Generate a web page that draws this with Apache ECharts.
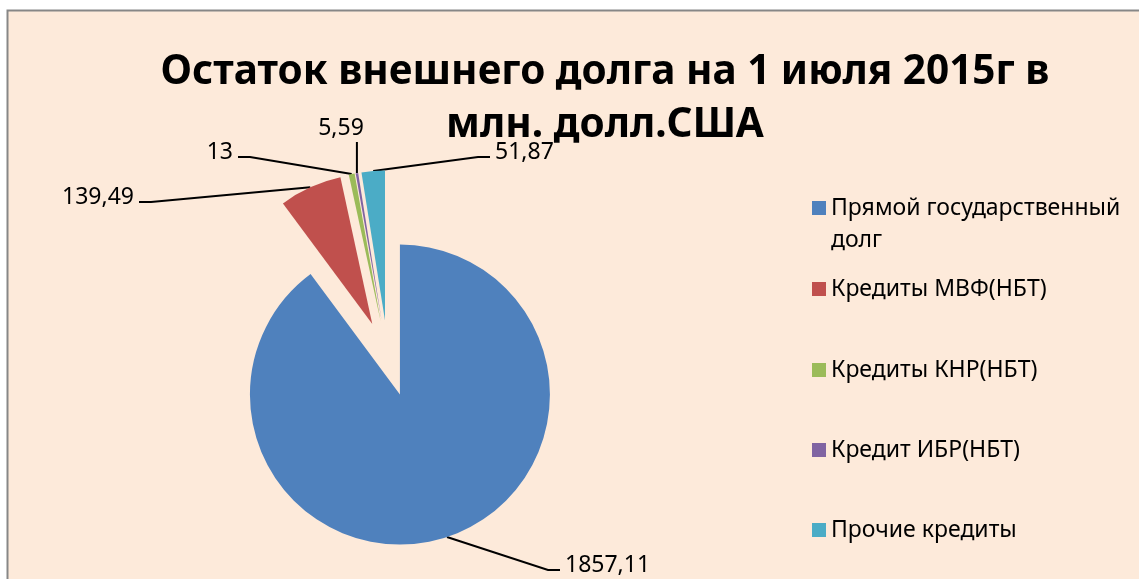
<!DOCTYPE html>
<html>
<head>
<meta charset="utf-8">
<script src="https://cdn.jsdelivr.net/npm/echarts@6/dist/echarts.min.js"></script>
<style>
  html, body { margin: 0; padding: 0; background: #fff; }
  #chart { width: 1139px; height: 579px; }
</style>
</head>
<body>
<div id="chart"></div>
<script>
// категории и значения (млн. долл. США)
const categories = ['Прямой государственный долг', 'Кредиты МВФ(НБТ)', 'Кредиты КНР(НБТ)', 'Кредит ИБР(НБТ)', 'Прочие кредиты'];
const values = [1857.11, 139.49, 13, 5.59, 51.87];
const colors = ['#4F81BD', '#C0504D', '#9BBB59', '#8064A2', '#4BACC6'];

// где стоят подписи (как в Excel)
const labelSpots = [
  { x: 565, y: 565, align: 'left' },
  { x: 134, y: 197, align: 'right' },
  { x: 233, y: 152, align: 'right' },
  { x: 341, y: 128, align: 'center' },
  { x: 495, y: 152, align: 'left' }
];
const legendTops = [160, 273, 354, 434, 514];

const font = 'Noto Sans';
const pieCenter = [388, 358.5];
const explode = 38; // вынос секторов, px
const total = values.reduce((a, b) => a + b, 0);

// каждый сектор - отдельная серия, сдвинутая по своей биссектрисе
let acc = 0;
const pieSeries = values.map((v, i) => {
  const mid = (acc + v / 2) / total * 2 * Math.PI;
  acc += v;
  return {
    type: 'pie',
    silent: true,
    center: [pieCenter[0] + explode * Math.sin(mid), pieCenter[1] - explode * Math.cos(mid)],
    radius: 150,
    startAngle: 90,
    clockwise: true,
    avoidLabelOverlap: false,
    itemStyle: { borderWidth: 0 },
    label: {
      position: 'outside',
      fontFamily: font,
      fontSize: 23,
      color: '#000',
      formatter: p => String(p.value).replace('.', ',')
    },
    labelLine: { length: 10, length2: 12, lineStyle: { color: '#000', width: 2 } },
    labelLayout: p => {
      const s = labelSpots[p.dataIndex];
      const arc = p.labelLinePoints ? p.labelLinePoints[0] : [s.x, s.y];
      let pts;
      if (s.align === 'center') {
        pts = [arc, [arc[0], s.y + 14], [arc[0], s.y + 14]];
      } else {
        const dir = s.align === 'left' ? -1 : 1;
        const end = [s.x + dir * 5, s.y + 5];
        pts = [arc, [end[0] + dir * 12, end[1]], end];
      }
      return { x: s.x, y: s.y, align: s.align, verticalAlign: 'middle', labelLinePoints: pts };
    },
    data: categories.map((name, j) => ({
      name: name,
      value: values[j],
      itemStyle: { color: j === i ? colors[j] : 'rgba(0,0,0,0)' },
      label: { show: j === i },
      labelLine: { show: j === i }
    }))
  };
});

const myChart = echarts.init(document.getElementById('chart'));

myChart.setOption({
  animation: false,
  backgroundColor: '#fff',
  graphic: [{
    type: 'rect',
    z: -10,
    shape: { x: 7.5, y: 10.5, width: 1140, height: 600 },
    style: { fill: '#FDEADA', stroke: '#878787', lineWidth: 2 }
  }],
  title: {
    text: 'Остаток внешнего долга на 1 июля 2015г в\nмлн. долл.США',
    left: 605,
    top: 46,
    padding: 0,
    textAlign: 'center',
    textStyle: { fontFamily: font, fontSize: 40.5, fontWeight: 'bold', color: '#000', lineHeight: 53 }
  },
  legend: categories.map((name, i) => ({
    data: [name],
    orient: 'vertical',
    left: 812,
    top: legendTops[i],
    padding: 0,
    icon: 'rect',
    itemWidth: 14,
    itemHeight: 14,
    itemGap: 7,
    selectedMode: false,
    itemStyle: { color: colors[i] },
    formatter: i === 0 ? '\nПрямой государственный\nдолг' : '{name}',
    textStyle: { fontFamily: font, fontSize: 23, color: '#000', lineHeight: 32 }
  })),
  series: pieSeries
});
</script>
</body>
</html>
